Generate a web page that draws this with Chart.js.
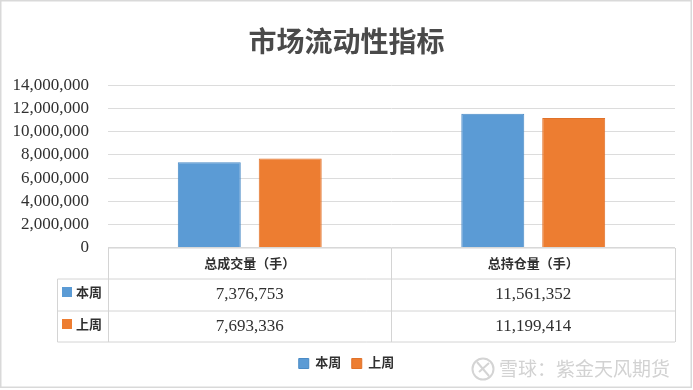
<!DOCTYPE html>
<html>
<head>
<meta charset="utf-8">
<style>
  html, body { margin: 0; padding: 0; background: #fff; }
  canvas { display: block; }
</style>
<script src="https://cdn.jsdelivr.net/npm/chart.js@4/dist/chart.umd.js"></script>
</head>
<body>
<canvas id="chart" width="693" height="390"></canvas>
<script>
const chartTitle = "市场流动性指标";
const categories = ["总成交量（手）", "总持仓量（手）"];
const thisWeek = [7376753, 11561352];
const lastWeek = [7693336, 11199414];
const seriesNames = ["本周", "上周"];
const seriesColors = ["#5b9bd5", "#ed7d31"];
const seriesBorders = ["#4a8bc6", "#e0722a"];
const watermark = "雪球：紫金天风期货";

const FONT = '"Liberation Serif", "Noto Sans CJK SC", serif';
const fmt = (v) => Number(v).toLocaleString("en-US");

// Frame around the whole picture and the watermark
const framePlugin = {
  id: "frame",
  beforeDraw(chart) {
    const ctx = chart.ctx;
    ctx.save();
    ctx.strokeStyle = "#d9d9d9";
    ctx.lineWidth = 1.5;
    ctx.strokeRect(0.75, 0.75, 690.5, 386.5);
    ctx.restore();
  },
  afterDraw(chart) {
    const ctx = chart.ctx;
    ctx.save();
    ctx.strokeStyle = "#d4d4d4";
    ctx.lineWidth = 2;
    ctx.beginPath();
    ctx.arc(483, 369, 10.5, 0, Math.PI * 2);
    ctx.moveTo(477, 362);
    ctx.lineTo(489, 376);
    ctx.moveTo(489, 363);
    ctx.lineTo(479, 372);
    ctx.stroke();
    ctx.fillStyle = "#d2d2d2";
    ctx.font = '19px "Noto Sans CJK SC"';
    ctx.textAlign = "left";
    ctx.textBaseline = "middle";
    ctx.fillText(watermark, 499, 369);
    ctx.restore();
  }
};

// Excel style data table under the plot, columns follow the x scale
const tablePlugin = {
  id: "dataTable",
  afterDraw(chart) {
    const ctx = chart.ctx;
    const x = chart.scales.x;
    const area = chart.chartArea;
    const top = area.bottom + 0.5;
    const rowLines = [top + 31, top + 63, top + 94];
    const labelLeft = 57.5;
    const colEdges = [area.left, (x.getPixelForTick(0) + x.getPixelForTick(1)) / 2 - 1, area.right];

    ctx.save();
    ctx.strokeStyle = "#d4d4d4";
    ctx.lineWidth = 1;
    ctx.beginPath();
    ctx.moveTo(area.left, top);
    ctx.lineTo(area.right, top);
    rowLines.forEach((y) => {
      ctx.moveTo(labelLeft, y);
      ctx.lineTo(area.right, y);
    });
    colEdges.forEach((cx) => {
      ctx.moveTo(Math.round(cx) + 0.5, top);
      ctx.lineTo(Math.round(cx) + 0.5, rowLines[2]);
    });
    ctx.moveTo(labelLeft, rowLines[0]);
    ctx.lineTo(labelLeft, rowLines[2]);
    ctx.stroke();

    [thisWeek, lastWeek].forEach((values, i) => {
      const rowTop = rowLines[i];
      const cy = rowTop + 15.5;
      ctx.fillStyle = seriesColors[i];
      ctx.fillRect(62, rowTop + 8, 10, 10);
      ctx.fillStyle = "#303030";
      ctx.textBaseline = "middle";
      ctx.textAlign = "left";
      ctx.font = "bold 13px " + FONT;
      ctx.fillText(seriesNames[i], 76, cy - 1);
      ctx.textAlign = "center";
      ctx.font = "17px " + FONT;
      values.forEach((v, c) => ctx.fillText(fmt(v), x.getPixelForTick(c), cy));
    });
    ctx.restore();
  }
};

new Chart(document.getElementById("chart"), {
  type: "bar",
  data: {
    labels: categories,
    datasets: [
      { label: seriesNames[0], data: thisWeek, backgroundColor: seriesColors[0], borderColor: seriesBorders[0], borderWidth: 1 },
      { label: seriesNames[1], data: lastWeek, backgroundColor: seriesColors[1], borderColor: seriesBorders[1], borderWidth: 1 }
    ]
  },
  options: {
    responsive: false,
    animation: false,
    categoryPercentage: 0.571,
    barPercentage: 0.778,
    layout: { padding: { top: 0, right: 0, bottom: 10, left: 0 } },
    plugins: {
      tooltip: { enabled: false },
      title: {
        display: true,
        text: chartTitle,
        color: "#4a4a4a",
        font: { family: '"Noto Sans CJK SC"', size: 28, weight: "bold" },
        padding: { top: 25, bottom: 27 }
      },
      legend: {
        position: "bottom",
        labels: {
          boxWidth: 10,
          boxHeight: 10,
          padding: 10.5,
          color: "#303030",
          font: { family: FONT, size: 13, weight: "bold" }
        }
      }
    },
    scales: {
      x: {
        afterFit(scale) { scale.height = 99; },
        grid: { display: false, drawTicks: false },
        border: { display: false },
        ticks: { color: "#303030", padding: 9, font: { family: FONT, size: 13, weight: "bold" }, maxRotation: 0 }
      },
      y: {
        min: 0,
        max: 14000000,
        afterFit(scale) { scale.width = 108; },
        grid: { color: "#dcdcdc", drawTicks: false },
        border: { display: false },
        ticks: {
          stepSize: 2000000,
          autoSkip: false,
          padding: 19,
          color: "#303030",
          font: { family: FONT, size: 17 },
          callback: (v) => fmt(v)
        }
      },
      // empty axis, only keeps the right margin without moving the title off centre
      spacer: {
        position: "right",
        afterFit(scale) { scale.width = 18; },
        grid: { display: false, drawTicks: false },
        border: { display: false },
        ticks: { display: false }
      }
    }
  },
  plugins: [framePlugin, tablePlugin]
});
</script>
</body>
</html>
